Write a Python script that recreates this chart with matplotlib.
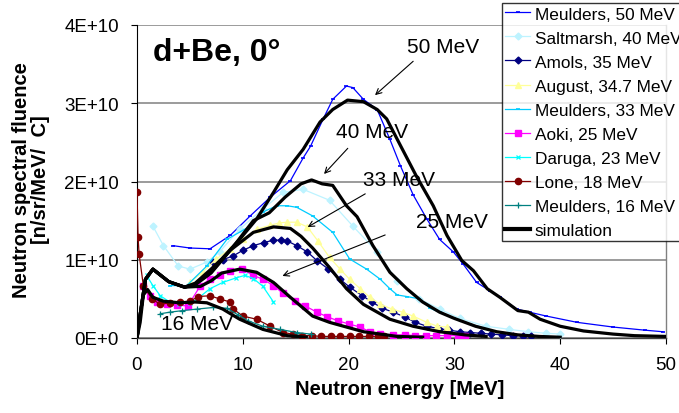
import matplotlib
matplotlib.use("Agg")
import matplotlib.pyplot as plt
from matplotlib.lines import Line2D

plt.rcParams['font.family'] = ['Liberation Sans', 'DejaVu Sans']

# ---------------- data (values in 1E+10 units) ----------------
meulders50_E = [3.4, 5, 6.9, 8.8, 10.7, 12.6, 14.5, 15.7, 16.4, 17.6, 18.5, 19.8, 20.4, 21.4, 22.7, 23.9, 24.9, 26.1,
                27.4, 28.6, 29.9, 30.8, 32.1, 33.4, 34.3, 35.9, 37.1, 38.7, 41.6, 45, 48, 49.7]
meulders50_V = [1.18, 1.15, 1.14, 1.31, 1.56, 1.80, 2.01, 2.30, 2.45, 2.80, 3.05, 3.22, 3.20, 3.05, 2.92, 2.54, 2.20, 1.83,
                1.52, 1.26, 1.10, 0.95, 0.71, 0.60, 0.52, 0.37, 0.33, 0.28, 0.20, 0.14, 0.10, 0.08]

saltmarsh40_E = [1.5, 2.5, 3.9, 5, 6.6, 7.8, 9.7, 11.9, 13.8, 15.7, 18.2, 20.4, 22.7, 24.6, 26.7, 28.6, 30.5, 33, 35.2, 37, 38.7, 40]
saltmarsh40_V = [1.43, 1.18, 0.92, 0.88, 0.97, 1.10, 1.39, 1.65, 1.86, 1.90, 1.76, 1.43, 1.10, 0.73, 0.50, 0.37, 0.25, 0.15, 0.11, 0.08, 0.06, 0.05]

amols35_E = [7.2, 8.1, 9.1, 10, 11, 12, 12.9, 13.6, 14.2, 15.1, 16.1, 17, 18.1, 19.2, 20.1, 21.3, 22.2, 23.2, 24.2, 25.3,
             26.3, 27.4, 28.5, 29.5, 30.5, 31.5, 32.5, 33.5, 34.5, 35.5, 36.5, 37.2]
amols35_V = [0.97, 1.00, 1.05, 1.12, 1.18, 1.22, 1.25, 1.25, 1.24, 1.18, 1.10, 0.99, 0.88, 0.75, 0.65, 0.54, 0.46, 0.38, 0.33, 0.27,
             0.20, 0.15, 0.12, 0.10, 0.08, 0.07, 0.06, 0.05, 0.04, 0.03, 0.03, 0.02]

august_E = [5, 6.2, 7.5, 8.8, 10, 11.3, 12.6, 13.4, 14.2, 15.1, 16.1, 17.1, 18.2, 19.2, 20.1, 21.1, 22, 23, 24.1, 25.1, 26.1, 27.4, 28.4, 29.3]
august_V = [0.71, 0.84, 1.01, 1.14, 1.26, 1.39, 1.44, 1.47, 1.48, 1.48, 1.42, 1.24, 1.03, 0.88, 0.75, 0.63, 0.52, 0.43, 0.37, 0.33, 0.28, 0.20, 0.15, 0.14]

meulders33_E = [3.1, 4.7, 6.6, 8.5, 10.7, 11.9, 13.2, 14.2, 15.1, 16.6, 18.5, 20.1, 21.7, 23, 23.9, 24.6, 25.5, 26.7, 27.7, 28.6, 30, 31.5, 33]
meulders33_V = [0.67, 0.67, 0.92, 1.26, 1.43, 1.61, 1.69, 1.69, 1.67, 1.56, 1.35, 1.01, 0.88, 0.75, 0.63, 0.55, 0.53, 0.50, 0.38, 0.33, 0.25, 0.18, 0.12]

aoki25_E = [0.6, 1.2, 1.9, 2.8, 3.8, 4.8, 6, 6.9, 7.8, 8.8, 9.9, 11, 11.9, 12.9, 13.8, 14.9, 15.9, 17, 18, 19, 20, 21.1, 22, 23,
            24.2, 25.3, 26.3, 27.3, 28.3, 29.3, 30.3, 31]
aoki25_V = [0.67, 0.54, 0.46, 0.44, 0.42, 0.41, 0.67, 0.75, 0.80, 0.86, 0.88, 0.80, 0.75, 0.67, 0.57, 0.47, 0.41, 0.33, 0.27, 0.22, 0.18, 0.14, 0.08, 0.05,
            0.04, 0.04, 0.03, 0.03, 0.03, 0.03, 0.03, 0.03]

daruga23_E = [0.9, 1.5, 2.2, 3.1, 4, 5, 5.7, 6.9, 8.1, 9.4, 10.2, 11, 11.9, 12.9]
daruga23_V = [0.80, 0.67, 0.54, 0.46, 0.44, 0.45, 0.50, 0.63, 0.71, 0.77, 0.80, 0.76, 0.66, 0.46]

lone18_E = [0, 0.1, 0.2, 0.6, 1.4, 2.2, 3.1, 4.1, 5, 5.8, 6.9, 7.8, 8.8, 9.1, 10, 11.3, 12.6, 13.8, 14.7, 15.6, 16.5, 17.4,
            18.3, 19.2, 20.1, 21, 21.9, 22.8, 23.3]
lone18_V = [1.87, 1.29, 1.07, 0.67, 0.50, 0.43, 0.45, 0.46, 0.47, 0.53, 0.54, 0.50, 0.46, 0.37, 0.28, 0.24, 0.15, 0.07, 0.05, 0.03, 0.03, 0.02,
            0.02, 0.02, 0.02, 0.02, 0.02, 0.02, 0.02]

meulders16_E = [2.2, 3.1, 4.3, 5.7, 7.2, 8.5, 9.5, 10.5, 11.9, 13.5, 15.1, 16.4]
meulders16_V = [0.31, 0.33, 0.35, 0.37, 0.39, 0.38, 0.30, 0.22, 0.15, 0.11, 0.07, 0.05]

sim50_E = [0, 0.3, 0.8, 1.5, 3, 4.5, 5.5, 7, 8, 9.7, 11.3, 12.9, 14.2, 15.7, 17.3, 18.5, 19.9, 21.4, 22.7, 23.6, 24.9, 26.4,
           28, 29.3, 30.7, 31.8, 33.1, 34.3, 36, 37, 38.1, 40, 42.2, 45, 47, 50]
sim50_V = [0, 0.3, 0.75, 0.88, 0.72, 0.65, 0.70, 0.88, 1.01, 1.26, 1.52, 1.86, 2.15, 2.41, 2.76, 2.92, 3.04, 3.02, 2.92, 2.80, 2.46, 2.07,
           1.69, 1.31, 0.99, 0.86, 0.63, 0.52, 0.35, 0.33, 0.24, 0.15, 0.09, 0.05, 0.03, 0.02]

sim40_E = [0, 0.3, 0.8, 1.5, 3, 4.5, 5.5, 7, 9, 11, 12.5, 14, 15.5, 16.5, 17.5, 18.5, 19.8, 20.8, 22.3, 23.9, 25.5, 27, 28.6, 30, 32, 34, 36, 38, 40]
sim40_V = [0, 0.3, 0.75, 0.88, 0.72, 0.65, 0.69, 0.84, 1.15, 1.50, 1.60, 1.80, 1.97, 2.02, 1.97, 1.95, 1.69, 1.55, 1.18, 0.84, 0.63, 0.46, 0.33, 0.25, 0.15, 0.08, 0.04, 0.02, 0.01]

sim33_E = [0, 0.3, 0.8, 1.5, 3, 4.5, 5.5, 7, 8.8, 11, 12.9, 14.5, 15.5, 16.6, 18.2, 19.8, 21.4, 23.9, 26.1, 28.6, 31, 33]
sim33_V = [0, 0.3, 0.75, 0.88, 0.72, 0.65, 0.68, 0.83, 1.12, 1.35, 1.42, 1.40, 1.30, 1.15, 0.90, 0.63, 0.43, 0.24, 0.15, 0.08, 0.04, 0.02]

sim25_E = [0, 0.3, 0.8, 1.5, 3, 4.5, 6, 7, 8, 9.7, 11.3, 12.9, 14.5, 16.6, 18.2, 21.4, 24.6, 27]
sim25_V = [0, 0.3, 0.75, 0.88, 0.72, 0.65, 0.66, 0.73, 0.83, 0.88, 0.84, 0.71, 0.52, 0.28, 0.20, 0.08, 0.02, 0.01]

sim16_E = [0, 0.3, 0.6, 1.0, 1.5, 2.5, 4, 5.5, 6.6, 8.1, 9.7, 11.9, 14.2, 16]
sim16_V = [0, 0.2, 0.55, 0.62, 0.52, 0.47, 0.45, 0.46, 0.45, 0.37, 0.24, 0.11, 0.03, 0.01]

series_labels = ["Meulders, 50 MeV", "Saltmarsh, 40 MeV", "Amols, 35 MeV", "August, 34.7 MeV",
                 "Meulders, 33 MeV", "Aoki, 25 MeV", "Daruga, 23 MeV", "Lone, 18 MeV",
                 "Meulders, 16 MeV", "simulation"]
ytick_vals = [0, 1, 2, 3, 4]
ytick_labels = ["0E+0", "1E+10", "2E+10", "3E+10", "4E+10"]
xtick_vals = [0, 10, 20, 30, 40, 50]
annot_labels = ["50 MeV", "40 MeV", "33 MeV", "25 MeV", "16 MeV"]

# ---------------- figure ----------------
fig = plt.figure(figsize=(6.79, 4.14), dpi=100)
ax = fig.add_axes([137/679, 1-339/414, (666-137)/679, (339-26)/414])

exp = [
    (meulders50_E, meulders50_V, dict(color='#0000FF', marker='_', ms=3, mew=1.2, lw=0.9)),
    (saltmarsh40_E, saltmarsh40_V, dict(color='#BDF3FF', marker='D', ms=3.5, lw=0.9)),
    (amols35_E, amols35_V, dict(color='#000080', marker='D', ms=3.5, lw=0.9)),
    (august_E, august_V, dict(color='#FFFF99', marker='^', ms=5, lw=0.9)),
    (meulders33_E, meulders33_V, dict(color='#00CCFF', marker='_', ms=3, mew=1.2, lw=0.9)),
    (aoki25_E, aoki25_V, dict(color='#FF00FF', marker='s', ms=4.5, lw=0.9)),
    (daruga23_E, daruga23_V, dict(color='#00FFFF', marker='x', ms=3.5, mew=0.9, lw=0.9)),
    (lone18_E, lone18_V, dict(color='#800000', marker='o', ms=4.5, lw=0.9)),
    (meulders16_E, meulders16_V, dict(color='#008080', marker='+', ms=5, mew=0.9, lw=0.9)),
]
handles = []
for (E, V, st), lab in zip(exp, series_labels[:9]):
    h, = ax.plot(E, V, label=lab, zorder=3, **st)
    handles.append(h)

for E, V in [(sim50_E, sim50_V), (sim40_E, sim40_V), (sim33_E, sim33_V), (sim25_E, sim25_V), (sim16_E, sim16_V)]:
    ax.plot(E, V, color='black', lw=2.3, zorder=4, solid_joinstyle='round')
handles.append(Line2D([], [], color='black', lw=3))

ax.set_xlim(0, 50)
ax.set_ylim(0, 4)
ax.set_yticks(ytick_vals)
ax.set_yticklabels(ytick_labels)
ax.set_xticks(xtick_vals)
ax.tick_params(axis='both', direction='out', length=4, width=0.8, labelsize=13.5, pad=9, colors='black')
ax.grid(axis='y', color='#808080', lw=1.1)
ax.set_axisbelow(True)
ax.spines['right'].set_color('#808080')
ax.spines['right'].set_linewidth(1.0)
ax.spines['top'].set_visible(False)
ax.spines['left'].set_color('black')
ax.spines['left'].set_linewidth(0.8)
ax.spines['bottom'].set_color('#404040')
ax.spines['bottom'].set_linewidth(1.0)

# title text and annotations
ax.text(1.55, 3.65, "d+Be, 0°", fontsize=23, fontweight='bold', ha='left', va='center')
arrow = dict(arrowstyle='->', color='black', lw=0.8)
ann = [
    (annot_labels[0], (28.9, 3.73), (26.3, 3.56), (22.3, 3.08)),
    (annot_labels[1], (22.2, 2.64), (20.1, 2.45), (17.5, 2.07)),
    (annot_labels[2], (24.8, 2.03), (21.8, 1.86), (15.9, 1.40)),
    (annot_labels[3], (29.8, 1.49), (23.7, 1.33), (13.5, 0.78)),
]
for lab, tpos, a0, a1 in ann:
    ax.text(tpos[0], tpos[1], lab, fontsize=15, ha='center', va='center', zorder=6)
    ax.annotate('', xy=a1, xytext=a0, arrowprops=arrow, zorder=6)
ax.text(5.7, 0.18, annot_labels[4], fontsize=15, ha='center', va='center', zorder=6)

fig.text(400/679, 1-390/414, "Neutron energy [MeV]", fontsize=14.5, fontweight='bold', ha='center', va='center')
fig.text(31/679, 1-180/414, "Neutron spectral fluence\n[n/sr/MeV/  C]", fontsize=14.5, fontweight='bold',
         rotation=90, ha='center', va='center', multialignment='center', linespacing=1.05)

leg = fig.legend(handles, series_labels, loc='upper left', bbox_to_anchor=(502/679, 1-4/414),
                 fontsize=12.4, frameon=True, fancybox=False, shadow=False, borderpad=0.2,
                 labelspacing=0.52, handlelength=1.45, handletextpad=0.25, borderaxespad=0)
leg.get_frame().set_edgecolor('black')
leg.get_frame().set_linewidth(1.0)
leg.set_zorder(10)

fig.savefig("out.png", dpi=100)
